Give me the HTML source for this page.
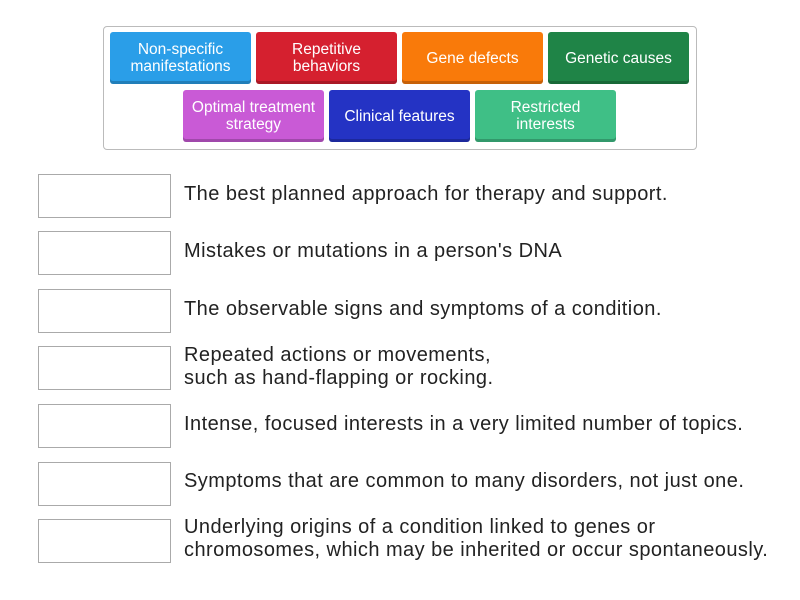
<!DOCTYPE html>
<html><head><style>
body{margin:0;width:800px;height:600px;background:#fff;font-family:"Liberation Sans",sans-serif;position:relative;overflow:hidden}
.c{position:absolute;left:103px;top:26px;width:592px;height:122px;border:1px solid #bbb;border-radius:4px}
.t{position:absolute;width:141px;height:52px;border-radius:3px;color:#fff;font-size:15.5px;line-height:17px;display:flex;align-items:center;justify-content:center;text-align:center;box-shadow:inset 0 -3px 0 rgba(0,0,0,.2)}
.b{position:absolute;left:38px;width:131px;height:42px;border:1px solid #aaa}
.x{position:absolute;left:184px;font-size:20px;letter-spacing:0.45px;color:#222;line-height:23px;white-space:nowrap}
</style></head><body>
<div class="c"></div>
<div class="t" style="left:110px;top:32px;background:#2a9ee8">Non-specific<br>manifestations</div>
<div class="t" style="left:256px;top:32px;background:#d5202f">Repetitive<br>behaviors</div>
<div class="t" style="left:402px;top:32px;background:#f97a0a">Gene defects</div>
<div class="t" style="left:548px;top:32px;background:#1f8447">Genetic causes</div>
<div class="t" style="left:183px;top:90px;background:#c95ad6">Optimal treatment<br>strategy</div>
<div class="t" style="left:329px;top:90px;background:#2433c4">Clinical features</div>
<div class="t" style="left:475px;top:90px;background:#3fbf86">Restricted<br>interests</div>

<div class="b" style="top:174px"></div><div class="x" style="top:183px">The best planned approach for therapy and support.</div>
<div class="b" style="top:231px"></div><div class="x" style="top:240px">Mistakes or mutations in a person's DNA</div>
<div class="b" style="top:289px"></div><div class="x" style="top:298px">The observable signs and symptoms of a condition.</div>
<div class="b" style="top:346px"></div><div class="x" style="top:344px">Repeated actions or movements,<br>such as hand-flapping or rocking.</div>
<div class="b" style="top:404px"></div><div class="x" style="top:413px">Intense, focused interests in a very limited number of topics.</div>
<div class="b" style="top:462px"></div><div class="x" style="top:470px">Symptoms that are common to many disorders, not just one.</div>
<div class="b" style="top:519px"></div><div class="x" style="top:516px">Underlying origins of a condition linked to genes or<br>chromosomes, which may be inherited or occur spontaneously.</div>
</body></html>
